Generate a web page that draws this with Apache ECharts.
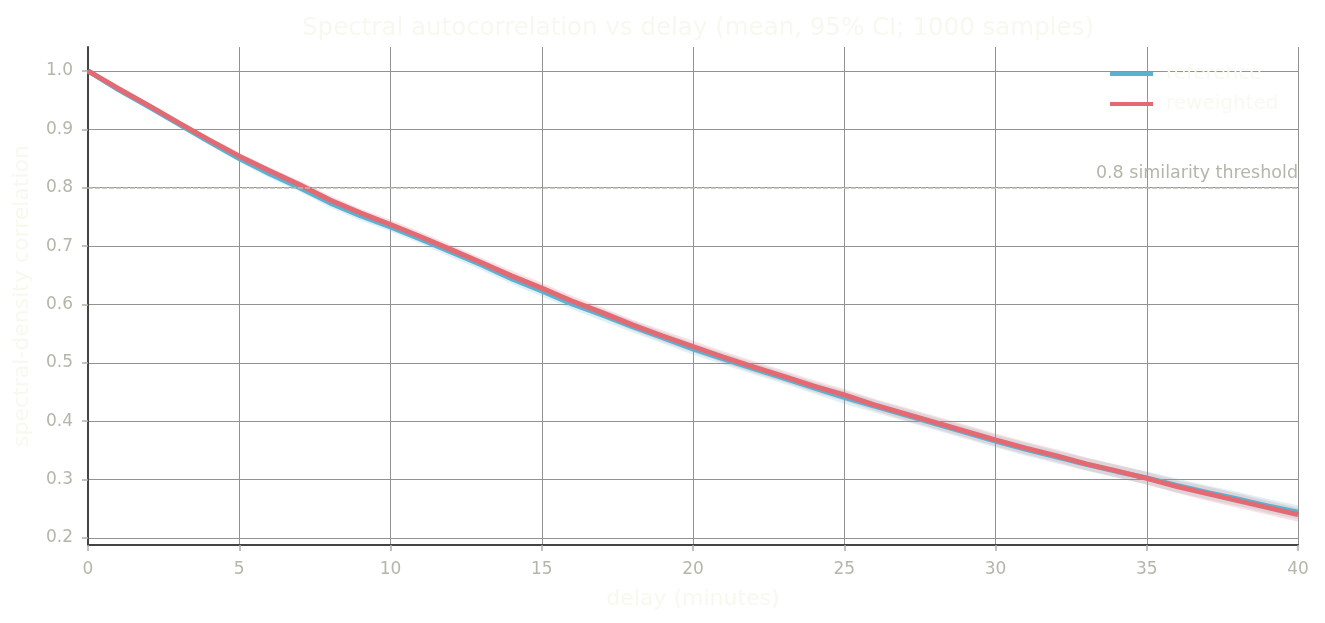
<!DOCTYPE html>
<html>
<head>
<meta charset="utf-8">
<script src="https://cdn.jsdelivr.net/npm/echarts@6/dist/echarts.min.js"></script>
<style>
html,body{margin:0;padding:0;background:#ffffff;}
#chart{width:1325px;height:623px;}
</style>
</head>
<body>
<div id="chart"></div>
<script>
// delay in minutes
const delays = [0,1,2,3,4,5,6,7,8,9,10,11,12,13,14,15,16,17,18,19,20,21,22,23,24,25,26,27,28,29,30,31,32,33,34,35,36,37,38,39,40];
// mean correlation, reference
const referenceMean = [1.000,0.968,0.939,0.909,0.879,0.850,0.824,0.800,0.774,0.752,0.733,0.712,0.690,0.668,0.644,0.623,0.601,0.582,0.562,0.543,0.524,0.507,0.490,0.474,0.457,0.441,0.426,0.411,0.396,0.381,0.366,0.352,0.339,0.326,0.314,0.303,0.290,0.278,0.267,0.255,0.244];
// 95% CI half-width, reference
const referenceCI = [0.000,0.003,0.004,0.005,0.006,0.006,0.007,0.007,0.008,0.008,0.008,0.008,0.009,0.009,0.009,0.009,0.009,0.010,0.010,0.010,0.010,0.010,0.010,0.010,0.010,0.011,0.011,0.011,0.011,0.011,0.011,0.011,0.011,0.011,0.011,0.011,0.012,0.012,0.012,0.012,0.012];
// mean correlation, reweighted
const reweightedMean = [1.000,0.970,0.941,0.911,0.882,0.854,0.829,0.805,0.779,0.757,0.737,0.716,0.694,0.672,0.649,0.628,0.606,0.586,0.565,0.546,0.528,0.510,0.493,0.477,0.460,0.445,0.428,0.413,0.398,0.383,0.368,0.354,0.341,0.327,0.315,0.302,0.288,0.276,0.264,0.252,0.240];
// 95% CI half-width, reweighted
const reweightedCI = [0.000,0.003,0.004,0.005,0.005,0.006,0.006,0.007,0.007,0.007,0.008,0.008,0.008,0.008,0.009,0.009,0.009,0.009,0.009,0.010,0.010,0.010,0.010,0.010,0.010,0.010,0.010,0.011,0.011,0.011,0.011,0.011,0.011,0.011,0.011,0.011,0.011,0.012,0.012,0.012,0.012];
const yTicks = [0.2,0.3,0.4,0.5,0.6,0.7,0.8,0.9,1.0];
const threshold = 0.8;

const BLUE = '#5ab2d0';
const RED = '#e36a73';
const FONT = 'DejaVu Sans';

function pairs(arr){ return delays.map((d,i)=>[d,arr[i]]); }
function bandData(m,c){ return delays.map((d,i)=>[d, m[i]-c[i], m[i]+c[i]]); }

function bandSeries(name, m, c, color){
  const data = bandData(m,c);
  return {
    name:name, type:'custom', silent:true, z:1,
    data:data,
    encode:{x:0, y:[1,2]},
    renderItem:function(params, api){
      if (params.dataIndex !== 0) return null;
      const up = [], lo = [];
      for (let i=0;i<data.length;i++){
        up.push(api.coord([data[i][0], data[i][2]]));
        lo.push(api.coord([data[i][0], data[i][1]]));
      }
      const pts = up.concat(lo.reverse());
      return {
        type:'polygon',
        shape:{points:pts},
        style:{fill:color, opacity:0.2},
        clipPath:{type:'rect', shape:{x:params.coordSys.x, y:params.coordSys.y, width:params.coordSys.width, height:params.coordSys.height}}
      };
    }
  };
}

const chart = echarts.init(document.getElementById('chart'), null, {renderer:'canvas'});
chart.setOption({
  animation:false,
  backgroundColor:'#ffffff',
  textStyle:{fontFamily:FONT},
  title:{
    text:'Spectral autocorrelation vs delay (mean, 95% CI; 1000 samples)',
    left:693, top:11, textAlign:'center',
    textStyle:{color:'#f8f8f0', fontSize:24.5, fontWeight:'normal', fontFamily:FONT}
  },
  legend:{
    orient:'vertical', left:1105, top:59,
    itemWidth:43, itemHeight:4, itemGap:10,
    icon:'rect',
    data:['reference','reweighted'],
    textStyle:{color:'#f9f9f1', fontSize:20, fontFamily:FONT, padding:[0,0,0,8]}
  },
  grid:{left:88, right:27, top:47, bottom:78, containLabel:false},
  xAxis:{
    type:'value', min:0, max:40, interval:5,
    name:'delay (minutes)', nameLocation:'middle', nameGap:43,
    nameTextStyle:{color:'#f8f8ee', fontSize:22, fontFamily:FONT},
    axisLine:{show:true, onZero:false, lineStyle:{color:'#444444', width:2}},
    axisTick:{show:true, length:6, lineStyle:{color:'#b0b0a6', width:1.5}},
    axisLabel:{color:'#b5b5aa', fontSize:17, margin:16, fontFamily:FONT},
    splitLine:{show:true, lineStyle:{color:'#929292', width:1}}
  },
  yAxis:{
    type:'value', min:0.188, max:1.041,
    name:'spectral-density correlation', nameLocation:'middle', nameGap:55,
    nameTextStyle:{color:'#f8f8ee', fontSize:22, fontFamily:FONT},
    axisLine:{show:true, onZero:false, lineStyle:{color:'#444444', width:2}},
    axisTick:{show:true, length:6, customValues:yTicks, lineStyle:{color:'#b0b0a6', width:1.5}},
    axisLabel:{color:'#b5b5aa', fontSize:17, margin:15, fontFamily:FONT, customValues:yTicks,
      formatter:v=>(+v).toFixed(1)},
    splitLine:{show:true, lineStyle:{color:'#929292', width:1}}
  },
  series:[
    bandSeries('refBand', referenceMean, referenceCI, BLUE),
    bandSeries('rwBand', reweightedMean, reweightedCI, RED),
    {name:'reference', type:'line', data:pairs(referenceMean), symbol:'none',
      color:BLUE, lineStyle:{color:BLUE, width:5}, z:3,
      markLine:{
        silent:true, symbol:'none',
        lineStyle:{color:'#bdbbb0', type:[5,2], width:1.5},
        label:{show:true, position:'insideEndTop', formatter:'0.8 similarity threshold',
          color:'#b5b5aa', fontSize:17.5, fontFamily:FONT, distance:[0,5]},
        data:[{yAxis:threshold}]
      }},
    {name:'reweighted', type:'line', data:pairs(reweightedMean), symbol:'none',
      color:RED, lineStyle:{color:RED, width:5}, z:4}
  ]
});
</script>
</body>
</html>
